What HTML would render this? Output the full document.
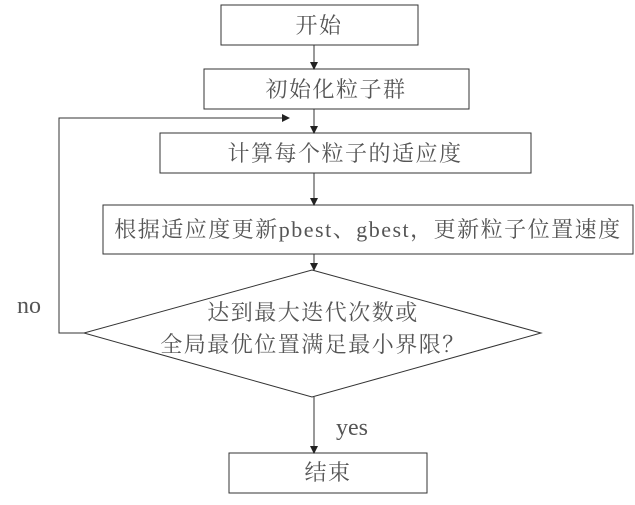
<!DOCTYPE html>
<html><head><meta charset="utf-8"><style>
html,body{margin:0;padding:0;background:#fff;}
svg text{font-family:"Liberation Serif","Noto Serif CJK SC",serif;fill:#555;}
</style></head><body>
<svg width="635" height="500" viewBox="0 0 635 500" xmlns="http://www.w3.org/2000/svg">
<defs><marker id="a" markerWidth="8" markerHeight="8" refX="7" refY="4" orient="auto" markerUnits="userSpaceOnUse"><path d="M0,0 L8,4 L0,8 z" fill="#222"/></marker></defs>
<g fill="#fff" stroke="#333" stroke-width="1">
<rect x="221" y="5" width="197" height="40"/>
<rect x="204" y="69" width="265" height="40"/>
<rect x="160" y="133" width="371" height="40"/>
<rect x="103" y="205" width="530" height="49"/>
<polygon points="312,270 541,333 312,397 84,333"/>
<rect x="229" y="453" width="198" height="40"/>
</g>
<g stroke="#333" stroke-width="1" fill="none">
<line x1="314" y1="45" x2="314" y2="69" marker-end="url(#a)"/>
<line x1="314" y1="109" x2="314" y2="133" marker-end="url(#a)"/>
<line x1="314" y1="173" x2="314" y2="205" marker-end="url(#a)"/>
<line x1="314" y1="254" x2="314" y2="270" marker-end="url(#a)"/>
<line x1="314" y1="397" x2="314" y2="453" marker-end="url(#a)"/>
<polyline points="84,333 59,333 59,118 289,118" marker-end="url(#a)"/>
</g>
<g font-size="22" text-anchor="middle" letter-spacing="1.5">
<text x="319" y="33">开始</text>
<text x="336" y="97">初始化粒子群</text>
<text x="345" y="161">计算每个粒子的适应度</text>
<text x="368" y="237">根据适应度更新pbest、gbest，更新粒子位置速度</text>
<text x="313" y="320">达到最大迭代次数或</text>
<text x="313" y="352">全局最优位置满足最小界限？</text>
<text x="328" y="480">结束</text>
</g>
<text x="17" y="313" font-size="24">no</text>
<text x="336" y="435" font-size="24">yes</text>
</svg>
</body></html>
